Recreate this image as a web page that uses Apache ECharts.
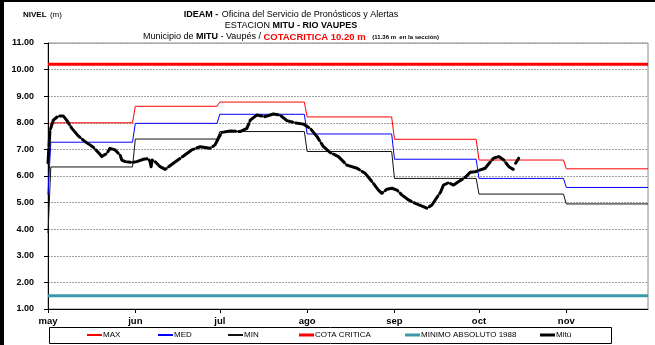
<!DOCTYPE html>
<html>
<head>
<meta charset="utf-8">
<script src="https://cdn.jsdelivr.net/npm/echarts@6/dist/echarts.min.js"></script>
<style>
html, body { margin: 0; padding: 0; background: #fff; }
#chart { width: 655px; height: 345px; }
</style>
</head>
<body>
<div id="chart"></div>
<script>
// Months on the x axis (day 0 = 1 May)
const monthLabels = ['may', 'jun', 'jul', 'ago', 'sep', 'oct', 'nov'];
const monthStartDays = [0, 31, 61, 92, 123, 153, 184];
const lastDay = 213;

// Historical monthly levels (m)
const maxFirstDay = 6.8;
const medFirstDay = 5.3;
const minFirstDay = 3.85;
const maxLevels = [8.00, 8.62, 8.78, 8.22, 7.38, 6.60, 6.27];
const medLevels = [7.27, 7.98, 8.32, 7.58, 6.63, 5.91, 5.57];
const minLevels = [6.34, 7.39, 7.67, 6.92, 5.91, 5.32, 4.95];

// Reference levels (m)
const cotaCritica = 10.20;
const minimoAbsoluto = 1.50;

// Observed level at Mitú
const mituDays = [0, 0.7, 1.9, 3.7, 5.4, 6.6, 8.4, 10.8, 13.1, 14.9, 16.1, 17.9, 19.1, 20.9, 22.0, 23.8, 25.6, 26.2, 27.4, 29.7,
  31.5, 33.9, 35.6, 36.2, 36.6, 37.0, 38.0, 39.8, 41.6, 44.5, 48.1, 51.0, 54.0, 57.5, 59.3, 60.5, 61.7, 64.7, 68.2, 70.6,
  71.8, 74.1, 77.1, 80.0, 82.4, 84.8, 87.7, 90.7, 93.1, 95.5, 97.8, 100.2, 103.1, 106.1, 109.7, 112.6, 115.0, 117.3, 118.5, 120.3,
  122.1, 123.9, 125.6, 128.0, 130.4, 132.8, 134.5, 136.3, 138.1, 139.3, 140.4, 142.2, 144.0, 145.8, 148.1, 149.9, 151.7, 153.5, 155.2, 156.4,
  158.2, 160.0, 161.8, 163.6, 165.2, 165.6, 166.0, 167.1];
const mituLevels = [6.5, 7.7, 8.1, 8.26, 8.26, 8.1, 7.8, 7.5, 7.3, 7.17, 7.08, 6.88, 6.73, 6.85, 7.04, 6.98, 6.79, 6.6, 6.54, 6.51,
  6.54, 6.63, 6.65, 6.55, 6.35, 6.6, 6.54, 6.35, 6.25, 6.48, 6.75, 6.98, 7.1, 7.04, 7.17, 7.42, 7.64, 7.69, 7.67, 7.79,
  8.1, 8.29, 8.23, 8.33, 8.29, 8.08, 8.0, 7.95, 7.79, 7.48, 7.1, 6.88, 6.73, 6.41, 6.29, 6.1, 5.79, 5.47, 5.35, 5.5,
  5.54, 5.47, 5.29, 5.1, 4.97, 4.87, 4.79, 4.91, 5.2, 5.38, 5.66, 5.75, 5.66, 5.79, 5.95, 6.14, 6.16, 6.23, 6.29, 6.45,
  6.67, 6.73, 6.6, 6.35, 6.25, null, 6.48, 6.67];

const FONT = '"Liberation Sans", Arial, sans-serif';

// Daily step line from monthly levels
function monthlySteps(first, levels) {
  const pts = [[0, first]];
  levels.forEach((v, i) => {
    const start = i === 0 ? 1 : monthStartDays[i];
    const end = i + 1 < monthStartDays.length ? monthStartDays[i + 1] - 1 : lastDay;
    pts.push([start, v], [end, v]);
  });
  return pts;
}

const mituData = mituDays.map((d, i) => [d, mituLevels[i] == null ? '-' : mituLevels[i]]);

function lineSeries(name, data, color, width, extra) {
  return Object.assign({
    name, type: 'line', data, symbol: 'none', animation: false,
    lineStyle: { color, width }, itemStyle: { color }
  }, extra || {});
}

function legendItem(name, left, height) {
  return {
    data: [name], left, top: 331, padding: 0, itemGap: 0,
    icon: 'rect', itemWidth: 15, itemHeight: height, selectedMode: false,
    textStyle: { fontFamily: FONT, fontSize: 8, color: '#000', padding: [0, 0, 0, -4] }
  };
}

const chart = echarts.init(document.getElementById('chart'));
chart.setOption({
  backgroundColor: '#fff',
  animation: false,
  grid: { left: 48, right: 7, top: 43, bottom: 36, show: true, borderColor: '#8a8a8a', borderWidth: 1 },
  xAxis: {
    type: 'value', min: 0, max: lastDay,
    axisLine: { lineStyle: { color: '#000', width: 1 } },
    axisTick: { customValues: monthStartDays, length: 4, lineStyle: { color: '#000' } },
    axisLabel: {
      customValues: monthStartDays,
      formatter: v => monthLabels[monthStartDays.indexOf(v)] || '',
      fontFamily: FONT, fontSize: 9.5, fontWeight: 'bold', color: '#000', margin: 7
    },
    splitLine: { show: false }
  },
  yAxis: {
    type: 'value', min: 1, max: 11, interval: 1,
    axisLine: { show: true, lineStyle: { color: '#000', width: 1 } },
    axisTick: { show: true, length: 4, lineStyle: { color: '#000' } },
    axisLabel: {
      formatter: v => v.toFixed(2),
      fontFamily: FONT, fontSize: 9, fontWeight: 'bold', color: '#000', margin: 14
    },
    splitLine: { show: true, lineStyle: { color: '#a0a0a0', type: [2, 1], width: 1 } }
  },
  legend: [
    legendItem('MAX', 87, 2),
    legendItem('MED', 158, 2),
    legendItem('MIN', 228, 2),
    legendItem('COTA CRITICA', 299, 3),
    legendItem('MINIMO ABSOLUTO 1988', 405, 3),
    legendItem('Mitú', 540, 3)
  ],
  series: [
    lineSeries('MAX', monthlySteps(maxFirstDay, maxLevels), '#ff0000', 1),
    lineSeries('MED', monthlySteps(medFirstDay, medLevels), '#0000ff', 1),
    lineSeries('MIN', monthlySteps(minFirstDay, minLevels), '#111111', 1),
    lineSeries('COTA CRITICA', [[0, cotaCritica], [lastDay, cotaCritica]], '#ff0000', 3),
    lineSeries('MINIMO ABSOLUTO 1988', [[0, minimoAbsoluto], [lastDay, minimoAbsoluto]], '#3a9aa8', 3),
    lineSeries('Mitú', mituData, '#000000', 3, {
      connectNulls: false, z: 5,
      lineStyle: { color: '#000', width: 3, type: [14, 3], cap: 'round', join: 'round' }
    })
  ],
  graphic: [
    { type: 'rect', shape: { x: 0, y: 0, width: 4, height: 345 }, style: { fill: '#000' }, silent: true },
    { type: 'rect', shape: { x: 0, y: 0, width: 655, height: 2 }, style: { fill: '#000' }, silent: true },
    { type: 'rect', shape: { x: 49.5, y: 327.5, width: 562, height: 16 }, style: { fill: 'none', stroke: '#000', lineWidth: 1 }, silent: true },
    {
      type: 'text', x: 23, y: 15, silent: true,
      style: {
        text: '{b|NIVEL} {n|(m)}', verticalAlign: 'middle', align: 'left',
        rich: {
          b: { fontFamily: FONT, fontSize: 8, fontWeight: 'bold', fill: '#000' },
          n: { fontFamily: FONT, fontSize: 8, fill: '#000' }
        }
      }
    },
    {
      type: 'text', x: 291, y: 15, silent: true,
      style: {
        text: '{b|IDEAM -} {n|Oficina del Servicio de Pronósticos y Alertas}', align: 'center', verticalAlign: 'middle',
        rich: {
          b: { fontFamily: FONT, fontSize: 9, fontWeight: 'bold', fill: '#000' },
          n: { fontFamily: FONT, fontSize: 9, fill: '#000' }
        }
      }
    },
    {
      type: 'text', x: 291, y: 26, silent: true,
      style: {
        text: '{n|ESTACION }{b|MITU - RIO VAUPES}', align: 'center', verticalAlign: 'middle',
        rich: {
          b: { fontFamily: FONT, fontSize: 9, fontWeight: 'bold', fill: '#000' },
          n: { fontFamily: FONT, fontSize: 9, fill: '#000' }
        }
      }
    },
    {
      type: 'text', x: 291, y: 37, silent: true,
      style: {
        text: '{n|Municipio de }{b|MITU}{n| - Vaupés / }{r|COTACRITICA 10.20 m}  {s|(11.36 m  en la sección)}', align: 'center', verticalAlign: 'middle',
        rich: {
          b: { fontFamily: FONT, fontSize: 9, fontWeight: 'bold', fill: '#000' },
          n: { fontFamily: FONT, fontSize: 9, fill: '#000' },
          r: { fontFamily: FONT, fontSize: 9.5, fontWeight: 'bold', fill: '#ff0000' },
          s: { fontFamily: FONT, fontSize: 6, fontWeight: 'bold', fill: '#000' }
        }
      }
    }
  ]
});
</script>
</body>
</html>
